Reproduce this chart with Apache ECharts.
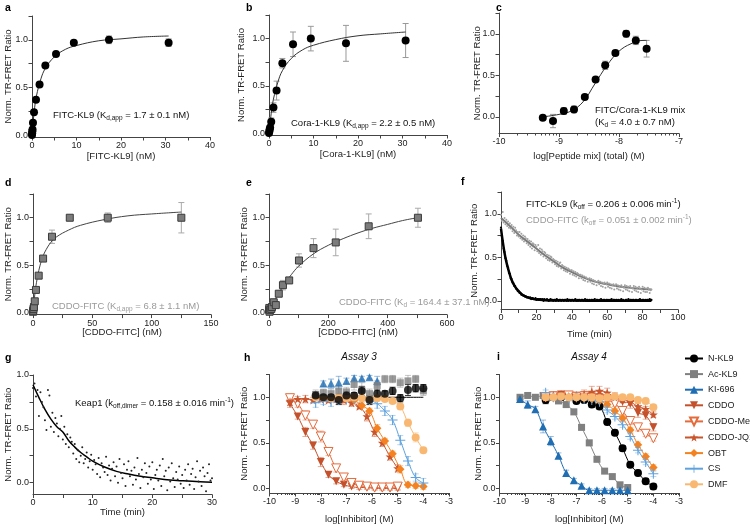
<!DOCTYPE html>
<html>
<head>
<meta charset="utf-8">
<script src="https://cdn.jsdelivr.net/npm/echarts@6/dist/echarts.min.js"></script>
<style>html,body{margin:0;background:#fff}#chart{width:750px;height:525px}</style>
</head>
<body>
<div id="chart"></div>
<script>
const FONT = 'Liberation Sans, Arial, Helvetica, sans-serif';
const YNAME = 'Norm. TR-FRET Ratio';

// a: FITC-KL9 saturation
const aConc = [0, 0.03, 0.06, 0.12, 0.22, 0.45, 0.9, 1.7, 3.0, 5.4, 9.4, 17.3, 30.7];
const aNorm = [0.0, 0.02, 0.04, 0.06, 0.13, 0.24, 0.37, 0.53, 0.73, 0.85, 0.97, 1.0, 0.97];
const aErr = [0, 0, 0.01, 0.01, 0.01, 0.01, 0.01, 0.02, 0.02, 0.02, 0.02, 0.04, 0.04];
const aFitX = [0, 0.5, 1, 2, 3, 5, 7.5, 10, 15, 20, 25, 30.7];
const aFitY = [0, 0.25, 0.41, 0.59, 0.70, 0.82, 0.90, 0.94, 0.99, 1.01, 1.03, 1.04];

// b: Cora-1-KL9 saturation
const bConc = [0, 0.08, 0.15, 0.25, 0.5, 1.0, 1.7, 3.0, 5.4, 9.4, 17.3, 30.7];
const bNorm = [0.0, 0.02, 0.04, 0.06, 0.12, 0.27, 0.45, 0.74, 0.94, 1.0, 0.95, 0.98];
const bErr = [0, 0.01, 0.01, 0.02, 0.04, 0.05, 0.1, 0.05, 0.13, 0.13, 0.19, 0.18];
const bFitX = [0, 0.5, 1, 2, 3, 5, 7.5, 10, 15, 20, 25, 30.7];
const bFitY = [0, 0.21, 0.36, 0.54, 0.66, 0.79, 0.88, 0.93, 0.99, 1.03, 1.05, 1.07];

// c: peptide mix titration (log M)
const cLog = [-9.27, -9.1, -8.92, -8.75, -8.57, -8.39, -8.23, -8.06, -7.88, -7.72, -7.54];
const cNorm = [-0.01, -0.05, 0.07, 0.09, 0.24, 0.45, 0.62, 0.77, 1.0, 0.92, 0.82];
const cErr = [0.02, 0.08, 0.04, 0.04, 0.03, 0.02, 0.05, 0.03, 0.04, 0.05, 0.1];
const cFitX = [-9.27, -9.0, -8.8, -8.6, -8.4, -8.2, -8.0, -7.8, -7.6, -7.54];
const cFitY = [0.0, 0.03, 0.07, 0.18, 0.40, 0.62, 0.79, 0.88, 0.92, 0.92];

// d: CDDO-FITC apparent
const dConc = [0, 0.2, 0.4, 0.8, 1.5, 2.5, 4.8, 8.5, 16, 31, 63, 125];
const dNorm = [0.01, 0.02, 0.04, 0.06, 0.12, 0.24, 0.39, 0.57, 0.80, 1.0, 1.0, 1.0];
const dErr = [0, 0, 0, 0.01, 0.01, 0.02, 0.02, 0.02, 0.07, 0.02, 0.05, 0.16];
const dFitX = [0, 2, 4, 6, 8, 10, 15, 20, 30, 40, 60, 80, 100, 125];
const dFitY = [0, 0.24, 0.39, 0.5, 0.58, 0.64, 0.74, 0.80, 0.87, 0.92, 0.98, 1.02, 1.04, 1.06];

// e: CDDO-FITC
const eConc = [0, 1, 2, 4, 8, 10, 16, 23, 33, 47, 68, 101, 150, 225, 336, 502];
const eNorm = [0.03, 0.05, 0.01, 0.03, 0.04, 0.06, 0.11, 0.08, 0.20, 0.29, 0.34, 0.55, 0.68, 0.74, 0.91, 1.0];
const eErr = [0.02, 0.03, 0.02, 0.02, 0.03, 0.04, 0.03, 0.03, 0.03, 0.05, 0.02, 0.07, 0.1, 0.14, 0.13, 0.1];
const eFitX = [0, 25, 50, 75, 100, 150, 200, 250, 300, 350, 400, 450, 500];
const eFitY = [0, 0.16, 0.29, 0.40, 0.49, 0.62, 0.71, 0.78, 0.84, 0.89, 0.93, 0.97, 1.0];

// f: dissociation, one reading every 0.5 min
const fStep = 0.5;
const fGray = [
  0.99, 0.92, 1.02, 0.90, 0.95, 0.88, 0.93, 0.86, 0.91, 0.84,
  0.89, 0.83, 0.87, 0.80, 0.85, 0.78, 0.84, 0.81, 0.75, 0.79,
  0.74, 0.79, 0.72, 0.77, 0.70, 0.75, 0.68, 0.74, 0.72, 0.66,
  0.71, 0.64, 0.69, 0.62, 0.68, 0.60, 0.66, 0.65, 0.58, 0.64,
  0.62, 0.57, 0.64, 0.55, 0.60, 0.53, 0.59, 0.57, 0.51, 0.56,
  0.55, 0.49, 0.53, 0.47, 0.52, 0.46, 0.51, 0.50, 0.44, 0.48,
  0.47, 0.42, 0.46, 0.40, 0.45, 0.39, 0.43, 0.44, 0.37, 0.41,
  0.40, 0.35, 0.39, 0.34, 0.38, 0.33, 0.37, 0.36, 0.31, 0.35,
  0.35, 0.30, 0.34, 0.29, 0.33, 0.28, 0.32, 0.31, 0.26, 0.30,
  0.30, 0.26, 0.29, 0.24, 0.28, 0.23, 0.27, 0.26, 0.22, 0.25,
  0.26, 0.22, 0.25, 0.20, 0.24, 0.19, 0.23, 0.22, 0.18, 0.22,
  0.23, 0.19, 0.22, 0.17, 0.21, 0.16, 0.20, 0.21, 0.15, 0.19,
  0.21, 0.16, 0.20, 0.15, 0.19, 0.14, 0.18, 0.19, 0.13, 0.17,
  0.19, 0.14, 0.18, 0.13, 0.17, 0.12, 0.18, 0.16, 0.11, 0.15,
  0.18, 0.13, 0.17, 0.12, 0.16, 0.11, 0.17, 0.15, 0.10, 0.14,
  0.17, 0.12, 0.16, 0.11, 0.15, 0.10, 0.16, 0.14, 0.09, 0.13,
  0.16, 0.11, 0.15, 0.10, 0.14, 0.10, 0.15, 0.13, 0.09, 0.12,
  0.13
];
const fBlack = [
  0.84, 0.74, 0.69, 0.60, 0.56, 0.49, 0.46, 0.40, 0.38, 0.32,
  0.31, 0.26, 0.25, 0.21, 0.20, 0.17, 0.17, 0.14, 0.13, 0.11,
  0.11, 0.09, 0.09, 0.07, 0.07, 0.06, 0.06, 0.05, 0.05, 0.04,
  0.04, 0.04, 0.03, 0.04, 0.02, 0.03, 0.03, 0.02, 0.02, 0.03,
  0.01, 0.02, 0.02, 0.01, 0.02, 0.02, 0.01, 0.02, 0.00, 0.02,
  0.01, 0.01, 0.02, 0.01, 0.00, 0.01, 0.02, 0.01, 0.01, 0.00,
  0.01, 0.01, 0.00, 0.02, 0.01, 0.00, 0.01, 0.01, 0.00, 0.01,
  0.01, 0.00, 0.01, 0.01, 0.00, 0.02, 0.00, 0.01, 0.01, 0.00,
  0.01, 0.01, 0.00, 0.01, 0.02, 0.00, 0.01, 0.00, 0.01, 0.01,
  0.00, 0.01, 0.01, 0.00, 0.01, 0.02, 0.00, 0.01, 0.01, 0.00,
  0.01, 0.00, 0.01, 0.01, 0.00, 0.01, 0.02, 0.00, 0.01, 0.01,
  0.00, 0.01, 0.00, 0.02, 0.01, 0.00, 0.01, 0.01, 0.00, 0.01,
  0.01, 0.00, 0.01, 0.00, 0.01, 0.02, 0.00, 0.01, 0.01, 0.00,
  0.01, 0.01, 0.00, 0.01, 0.00, 0.01, 0.02, 0.00, 0.01, 0.00,
  0.00, 0.01, 0.01, 0.00, 0.02, 0.00, 0.01, 0.01, 0.00, 0.01,
  0.01, 0.00, 0.01, 0.01, 0.00, 0.01, 0.00, 0.02, 0.01, 0.00,
  0.01, 0.01, 0.00, 0.01, 0.00, 0.01, 0.01, 0.00, 0.02, 0.01,
  0.01
];
const fGrayFitT = [0, 5, 10, 15, 20, 25, 30, 35, 40, 45, 50, 55, 60, 65, 70, 75, 80, 85];
const fGrayFitY = [0.95, 0.86, 0.76, 0.68, 0.60, 0.52, 0.45, 0.38, 0.33, 0.28, 0.24, 0.21, 0.19, 0.17, 0.155, 0.145, 0.135, 0.13];
const fBlackFitT = [0, 1, 2, 3, 4, 5, 6, 8, 10, 12, 15, 20, 25, 30, 40, 60, 85];
const fBlackFitY = [0.83, 0.68, 0.55, 0.45, 0.37, 0.30, 0.24, 0.16, 0.11, 0.07, 0.04, 0.015, 0.007, 0.004, 0.002, 0.001, 0.0];

// g: Keap1 dimer, one reading every 0.25 min
const gStep = 0.25;
const gKeap1 = [
  0.88, 0.92, 0.80, 0.86, 0.62, 0.84, 0.75, 0.70, 0.58, 0.49, 0.86, 0.81,
  0.52, 0.65, 0.47, 0.60, 0.55, 0.43, 0.50, 0.62, 0.40, 0.52, 0.36, 0.45,
  0.33, 0.42, 0.38, 0.27, 0.36, 0.22, 0.30, 0.19, 0.25, 0.33, 0.18, 0.22,
  0.28, 0.14, 0.20, 0.26, 0.12, 0.21, 0.17, 0.08, 0.23, 0.05, 0.18, 0.14,
  0.10, 0.24, 0.07, 0.16, 0.02, 0.13, 0.19, 0.06, 0.15, 0.00, 0.22, 0.09,
  0.04, 0.17, -0.03, 0.12, 0.20, 0.06, 0.11, -0.02, 0.14, 0.03, 0.23, 0.08,
  -0.05, 0.12, 0.05, 0.18, 0.09, -0.01, 0.15, 0.03, 0.19, -0.06, 0.07, 0.12,
  0.02, 0.16, -0.03, 0.22, 0.06, 0.11, -0.07, 0.14, 0.01, 0.18, 0.04, -0.04,
  0.10, 0.03, 0.15, -0.01, 0.07, -0.05, 0.12, 0.02, 0.17, -0.02, 0.08, 0.13,
  -0.06, 0.05, 0.20, 0.01, 0.11, -0.03, 0.14, 0.06, -0.08, 0.09, 0.17, 0.02,
  0.04
];
const gFitT = [0, 1, 2, 3, 4, 5, 6, 7, 8, 9, 10, 12, 14, 16, 18, 20, 22, 25, 28, 30];
const gFitY = [0.91, 0.79, 0.68, 0.59, 0.52, 0.47, 0.39, 0.33, 0.28, 0.24, 0.20, 0.145, 0.105, 0.08, 0.06, 0.045, 0.03, 0.018, 0.008, 0.004];

// h / i: inhibitor titrations (log M)
const compounds = ['N-KL9', 'Ac-KL9', 'KI-696', 'CDDO', 'CDDO-Me', 'CDDO-JQ1', 'OBT', 'CS', 'DMF'];
const logHigh = [-8.2, -7.9, -7.6, -7.3, -7.0, -6.7, -6.4, -6.1, -5.8, -5.5, -5.2, -4.9, -4.6, -4.3, -4.0];
const logLow = [-9.2, -8.9, -8.6, -8.3, -8.0, -7.7, -7.4, -7.1, -6.8, -6.5, -6.2, -5.9, -5.6, -5.3, -5.0];
const logKI3 = [-7.9, -7.6, -7.3, -7.0, -6.7, -6.4, -6.1, -5.8];

// assay 3
const h_nkl9 = [1.02, 1.0, 1.0, 0.97, 1.02, 1.02, 1.07, 0.97, 1.04, 1.04, 1.07, 0.99, 1.08, 1.10, 1.10];
const h_nkl9Err = [0.04, 0.03, 0.03, 0.05, 0.04, 0.03, 0.05, 0.05, 0.04, 0.03, 0.04, 0.04, 0.06, 0.04, 0.04];
const h_nkl9FitX = [-8.2, -4.0];
const h_nkl9FitY = [1.0, 1.0];
const h_ackl9 = [1.03, 1.05, 1.04, 1.07, 1.06, 1.14, 1.08, 1.04, 1.13, 1.2, 1.2, 1.16, 1.18, 1.2, 1.07];
const h_ackl9Err = [0.05, 0.04, 0.05, 0.06, 0.05, 0.06, 0.08, 0.05, 0.05, 0.04, 0.04, 0.05, 0.06, 0.04, 0.05];
const h_ki = [1.15, 1.15, 1.16, 1.18, 1.21, 1.21, 1.22, 1.18];
const h_kiErr = [0.03, 0.05, 0.07, 0.03, 0.03, 0.02, 0.02, 0.05];
const h_cddo = [0.93, 0.79, 0.62, 0.47, 0.29, 0.15, 0.08, 0.04, 0.02, 0.01, 0.01, 0.0, 0.0, 0.0, 0.0];
const h_cddoErr = [0.04, 0.03, 0.05, 0.04, 0.05, 0.03, 0.03, 0.02, 0.02, 0.02, 0.02, 0.02, 0.02, 0.02, 0.02];
const h_cddoMe = [0.99, 0.93, 0.80, 0.70, 0.57, 0.40, 0.22, 0.12, 0.06, 0.03, 0.02, 0.01, 0.01, 0.01, 0.02];
const h_cddoMeErr = [0.03, 0.04, 0.05, 0.04, 0.06, 0.04, 0.04, 0.03, 0.02, 0.02, 0.02, 0.02, 0.02, 0.02, 0.03];
const h_jq1 = [0.95, 0.98, 0.98, 0.97, 0.98, 0.97, 0.98, 0.97, 0.94, 0.90, 0.79, 0.62, 0.50, 0.35, 0.22];
const h_jq1Err = [0.04, 0.03, 0.04, 0.03, 0.03, 0.03, 0.03, 0.05, 0.04, 0.03, 0.05, 0.05, 0.04, 0.04, 0.04];
const h_obt = [1.0, 0.99, 1.0, 0.99, 1.0, 0.97, 0.91, 0.85, 0.66, 0.52, 0.38, 0.21, 0.04, 0.03, 0.02];
const h_obtErr = [0.02, 0.02, 0.02, 0.03, 0.02, 0.02, 0.03, 0.03, 0.04, 0.03, 0.03, 0.04, 0.03, 0.03, 0.03];
const h_cs = [0.94, 0.96, 0.95, 0.97, 0.98, 0.98, 0.99, 0.97, 0.93, 0.85, 0.75, 0.53, 0.30, 0.12, 0.06];
const h_csErr = [0.05, 0.04, 0.05, 0.04, 0.03, 0.03, 0.03, 0.04, 0.05, 0.05, 0.05, 0.05, 0.05, 0.04, 0.05];
const h_dmf = [1.0, 1.0, 0.99, 1.0, 0.99, 1.0, 0.99, 0.98, 0.99, 0.98, 0.96, 0.90, 0.72, 0.56, 0.42];
const h_dmfErr = [0.02, 0.02, 0.02, 0.02, 0.02, 0.02, 0.02, 0.02, 0.02, 0.02, 0.03, 0.03, 0.04, 0.05, 0.03];

// assay 4
const i_nkl9 = [0.97, 1.0, 1.0, 1.02, 0.96, 0.97, 0.92, 0.90, 0.73, 0.61, 0.44, 0.26, 0.17, 0.08, 0.02];
const i_nkl9Err = [0.04, 0.03, 0.03, 0.03, 0.03, 0.03, 0.03, 0.03, 0.03, 0.03, 0.03, 0.03, 0.03, 0.03, 0.03];
const i_ackl9 = [1.0, 1.02, 1.0, 1.02, 1.0, 0.96, 0.92, 0.84, 0.67, 0.50, 0.32, 0.19, 0.13, 0.04, 0.01];
const i_ackl9Err = [0.02, 0.02, 0.02, 0.02, 0.03, 0.02, 0.03, 0.03, 0.03, 0.03, 0.03, 0.02, 0.02, 0.02, 0.02];
const i_ki = [0.98, 0.92, 0.87, 0.68, 0.52, 0.36, 0.17, 0.09, 0.03, -0.02, -0.02, -0.02, -0.02, -0.02, -0.02];
const i_kiErr = [0.02, 0.04, 0.03, 0.07, 0.05, 0.03, 0.03, 0.02, 0.02, 0.02, 0.02, 0.02, 0.02, 0.02, 0.02];
const i_cddo = [1.0, 1.02, 1.03, 1.02, 1.01, 1.02, 1.01, 1.0, 0.99, 0.97, 0.95, 0.93, 0.83, 0.80, 0.67];
const i_cddoErr = [0.02, 0.03, 0.03, 0.03, 0.03, 0.04, 0.04, 0.03, 0.04, 0.04, 0.05, 0.05, 0.05, 0.04, 0.04];
const i_cddoMe = [1.0, 1.01, 1.0, 1.02, 1.0, 1.01, 0.99, 0.98, 0.97, 0.93, 0.85, 0.74, 0.67, 0.60, 0.55];
const i_cddoMeErr = [0.02, 0.03, 0.03, 0.03, 0.03, 0.04, 0.03, 0.04, 0.04, 0.03, 0.04, 0.04, 0.04, 0.03, 0.03];
const i_jq1 = [1.0, 1.02, 1.03, 1.01, 1.02, 1.03, 1.06, 1.07, 1.05, 1.0, 0.98, 0.95, 0.90, 0.87, 0.81];
const i_jq1Err = [0.02, 0.03, 0.03, 0.03, 0.04, 0.05, 0.06, 0.05, 0.05, 0.05, 0.04, 0.04, 0.03, 0.03, 0.03];
const i_obt = [1.0, 1.0, 1.01, 1.0, 1.0, 0.99, 0.98, 0.96, 0.92, 0.85, 0.77, 0.64, 0.48, 0.35, 0.23];
const i_obtErr = [0.02, 0.02, 0.02, 0.02, 0.02, 0.03, 0.03, 0.03, 0.03, 0.03, 0.03, 0.03, 0.03, 0.03, 0.03];
const i_cs = [1.05, 1.0, 1.0, 0.99, 1.0, 0.98, 0.97, 0.95, 0.86, 0.79, 0.70, 0.57, 0.42, 0.29, 0.16];
const i_csErr = [0.03, 0.03, 0.03, 0.03, 0.03, 0.03, 0.03, 0.03, 0.03, 0.03, 0.03, 0.03, 0.03, 0.03, 0.03];
const i_dmf = [1.0, 1.0, 1.01, 1.0, 1.0, 1.0, 1.0, 0.99, 1.0, 1.01, 1.0, 1.0, 0.97, 0.96, 0.89];
const i_dmfErr = [0.02, 0.02, 0.02, 0.02, 0.02, 0.02, 0.02, 0.02, 0.02, 0.03, 0.03, 0.03, 0.03, 0.03, 0.03];

// tick positions and labels
const normTicks = [0, 0.25, 0.5, 0.75, 1, 1.25];
const normTicksG = [0, 0.25, 0.5, 0.75, 1];
const normLabels = [0, 0.5, 1];
const abTicks = [0, 5, 10, 15, 20, 25, 30, 35, 40];
const abLabels = [0, 10, 20, 30, 40];
const cLabels = [-10, -9, -8, -7];
const dTicks = [0, 25, 50, 75, 100, 125, 150];
const dLabels = [0, 50, 100, 150];
const eTicks = [0, 100, 200, 300, 400, 500, 600];
const eLabels = [0, 200, 400, 600];
const fTicks = [0, 10, 20, 30, 40, 50, 60, 70, 80, 90, 100];
const fLabels = [0, 20, 40, 60, 80, 100];
const gTicks = [0, 5, 10, 15, 20, 25, 30];
const gLabels = [0, 10, 20, 30];
const hiLabels = [-10, -9, -8, -7, -6, -5, -4, -3];

const STAR = 'path://M0,-10L2.35,-3.24L9.51,-3.09L3.8,1.24L5.88,8.09L0,4L-5.88,8.09L-3.8,1.24L-9.51,-3.09L-2.35,-3.24Z';
const PLUS = 'path://M-1,-10H1V-1H10V1H1V10H-1V1H-10V-1H-1Z';
const look = {
  'N-KL9': { symbol: 'circle', size: 8, color: '#000000' },
  'Ac-KL9': { symbol: 'rect', size: 7, color: '#808080' },
  'KI-696': { symbol: 'triangle', size: 8, color: '#1f6db3' },
  'CDDO': { symbol: 'triangle', rotate: 180, size: 8, color: '#c4512b' },
  'CDDO-Me': { symbol: 'triangle', rotate: 180, size: 9, color: '#e46b3c', hollow: true },
  'CDDO-JQ1': { symbol: STAR, size: 9, color: '#c9552c' },
  'OBT': { symbol: 'diamond', size: 8.5, color: '#f58220' },
  'CS': { symbol: PLUS, size: 10, color: '#5fa2dd' },
  'DMF': { symbol: 'circle', size: 8, color: '#f9b872' }
};

const pairs = (xs, ys) => xs.map((x, k) => [x, ys[k]]);
const timed = (ys, step) => ys.map((y, k) => [k * step, y]);
function logMinors(from, to) {
  const out = [];
  for (let d = from; d < to; d++) for (let k = 2; k <= 9; k++) out.push(d + Math.log10(k));
  return out;
}

const grids = [], xAxes = [], yAxes = [], series = [];

function panel(box, x, y) {
  grids.push(box);
  const gi = grids.length - 1;
  const xi = xAxes.length;
  xAxes.push({
    gridIndex: gi, type: 'value', min: x.min, max: x.max, position: 'bottom',
    name: x.name, nameLocation: 'middle', nameGap: x.gap, nameMoveOverlap: false,
    nameTextStyle: { fontSize: 9.5, color: '#222', fontFamily: FONT },
    axisLine: { onZero: false, lineStyle: { color: '#444' } },
    axisTick: { length: 3.5, customValues: x.ticks, lineStyle: { color: '#444' } },
    axisLabel: { customValues: x.labels, fontSize: 9, color: '#222', margin: 4, fontFamily: FONT },
    splitLine: { show: false }
  });
  if (x.minors) {
    xAxes.push({
      gridIndex: gi, type: 'value', min: x.min, max: x.max, position: 'bottom',
      axisLine: { show: false, onZero: false }, axisLabel: { show: false }, splitLine: { show: false },
      axisTick: { length: 2, customValues: x.minors, lineStyle: { color: '#444' } }
    });
  }
  const yi = yAxes.length;
  yAxes.push({
    gridIndex: gi, type: 'value', min: y.min, max: y.max,
    name: YNAME, nameLocation: 'middle', nameGap: y.gap, nameMoveOverlap: false,
    nameTextStyle: { fontSize: 9.5, color: '#222', fontFamily: FONT },
    axisLine: { show: true, onZero: false, lineStyle: { color: '#444' } },
    axisTick: { show: true, length: 3.5, customValues: y.ticks || normTicks, lineStyle: { color: '#444' } },
    axisLabel: { customValues: normLabels, formatter: v => v.toFixed(1), fontSize: 9, color: '#222', margin: 4, fontFamily: FONT },
    splitLine: { show: false }
  });
  return { xi, yi };
}

function errorBars(ax, xs, ys, errs, color, opacity) {
  return {
    type: 'custom', xAxisIndex: ax.xi, yAxisIndex: ax.yi, silent: true, z: 1,
    data: xs.map((x, k) => [x, ys[k] - errs[k], ys[k] + errs[k]]),
    encode: { x: 0, y: [1, 2] },
    renderItem: function (params, api) {
      const lo = api.coord([api.value(0), api.value(1)]);
      const hi = api.coord([api.value(0), api.value(2)]);
      const st = { stroke: color, lineWidth: 1, opacity: opacity };
      return {
        type: 'group', children: [
          { type: 'line', shape: { x1: lo[0], y1: lo[1], x2: hi[0], y2: hi[1] }, style: st },
          { type: 'line', shape: { x1: lo[0] - 3, y1: lo[1], x2: lo[0] + 3, y2: lo[1] }, style: st },
          { type: 'line', shape: { x1: hi[0] - 3, y1: hi[1], x2: hi[0] + 3, y2: hi[1] }, style: st }
        ]
      };
    }
  };
}

function fitLine(ax, xs, ys, color, width) {
  return {
    type: 'line', xAxisIndex: ax.xi, yAxisIndex: ax.yi, data: pairs(xs, ys), smooth: 0.4,
    showSymbol: false, silent: true, z: 2, lineStyle: { color: color, width: width || 1 }
  };
}

function dots(ax, data, symbol, size, fill, border) {
  return {
    type: 'scatter', xAxisIndex: ax.xi, yAxisIndex: ax.yi, data: data, symbol: symbol, symbolSize: size,
    silent: true, z: 3,
    itemStyle: { color: fill, borderColor: border || fill, borderWidth: border ? 1 : 0, opacity: 1 }
  };
}

// compound series for the inhibitor panels
function compound(ax, name, xs, ys, errs, withLine) {
  const s = look[name];
  const errColor = name === 'N-KL9' ? '#000' : s.color;
  series.push(errorBars(ax, xs, ys, errs, errColor, name === 'N-KL9' ? 0.8 : 0.45));
  series.push({
    name: name, type: withLine ? 'line' : 'scatter', xAxisIndex: ax.xi, yAxisIndex: ax.yi,
    data: pairs(xs, ys), smooth: 0.4, symbol: s.symbol, symbolSize: s.size, symbolRotate: s.rotate || 0,
    showSymbol: true, z: 3,
    lineStyle: { color: s.color, width: 1 },
    itemStyle: { color: s.hollow ? '#fff' : s.color, borderColor: s.color, borderWidth: s.hollow ? 1 : 0 }
  });
}

// a
const pa = panel({ left: 32, top: 16, width: 178, height: 121 },
  { min: 0, max: 40, ticks: abTicks, labels: abLabels, name: '[FITC-KL9] (nM)', gap: 14 },
  { min: -0.02, max: 1.25, gap: 19 });
series.push(errorBars(pa, aConc, aNorm, aErr, '#999', 1));
series.push(fitLine(pa, aFitX, aFitY, '#333'));
series.push(dots(pa, pairs(aConc, aNorm), 'circle', 8, '#000'));

// b
const pb = panel({ left: 269, top: 15, width: 178, height: 120 },
  { min: 0, max: 40, ticks: abTicks, labels: abLabels, name: '[Cora-1-KL9] (nM)', gap: 14 },
  { min: -0.02, max: 1.25, gap: 23 });
series.push(errorBars(pb, bConc, bNorm, bErr, '#999', 1));
series.push(fitLine(pb, bFitX, bFitY, '#333'));
series.push(dots(pb, pairs(bConc, bNorm), 'circle', 8, '#000'));

// c
const pc = panel({ left: 499, top: 13, width: 180, height: 120.5 },
  { min: -10, max: -7, ticks: cLabels, labels: cLabels, minors: logMinors(-10, -7), name: 'log[Peptide mix] (total) (M)', gap: 18 },
  { min: -0.2, max: 1.25, gap: 16.5 });
series.push(errorBars(pc, cLog, cNorm, cErr, '#999', 1));
series.push(fitLine(pc, cFitX, cFitY, '#333'));
series.push(dots(pc, pairs(cLog, cNorm), 'circle', 8, '#000'));

// d
const pd = panel({ left: 33, top: 194, width: 178, height: 120.6 },
  { min: 0, max: 150, ticks: dTicks, labels: dLabels, name: '[CDDO-FITC] (nM)', gap: 13 },
  { min: -0.02, max: 1.25, gap: 20 });
series.push(errorBars(pd, dConc, dNorm, dErr, '#aaa', 1));
series.push(fitLine(pd, dFitX, dFitY, '#444'));
series.push(dots(pd, pairs(dConc, dNorm), 'rect', 7, '#7c7c7c', '#3a3a3a'));

// e
const pe = panel({ left: 269, top: 194, width: 178, height: 120.6 },
  { min: 0, max: 600, ticks: eTicks, labels: eLabels, name: '[CDDO-FITC] (nM)', gap: 13 },
  { min: -0.02, max: 1.25, gap: 20 });
series.push(errorBars(pe, eConc, eNorm, eErr, '#aaa', 1));
series.push(fitLine(pe, eFitX, eFitY, '#444'));
series.push(dots(pe, pairs(eConc, eNorm), 'rect', 7, '#7c7c7c', '#3a3a3a'));

// f
const pf = panel({ left: 501, top: 192, width: 177, height: 117.5 },
  { min: 0, max: 100, ticks: fTicks, labels: fLabels, name: 'Time (min)', gap: 20 },
  { min: -0.1, max: 1.25, gap: 22 });
series.push(dots(pf, timed(fGray, fStep), 'circle', 2, '#a0a0a0'));
series.push(fitLine(pf, fGrayFitT, fGrayFitY, '#7a7a7a', 2));
series.push(dots(pf, timed(fBlack, fStep), 'circle', 2.2, '#000'));
series.push(fitLine(pf, fBlackFitT, fBlackFitY, '#000', 2.5));

// g
const pg = panel({ left: 33, top: 375, width: 179, height: 119.5 },
  { min: 0, max: 30, ticks: gTicks, labels: gLabels, name: 'Time (min)', gap: 13 },
  { min: -0.11, max: 1.0, ticks: normTicksG, gap: 20 });
series.push(dots(pg, timed(gKeap1, gStep), 'circle', 2, '#222'));
series.push(fitLine(pg, gFitT, gFitY, '#000', 1.5));

// h and i
const ph = panel({ left: 269.5, top: 374.5, width: 179.5, height: 118.5 },
  { min: -10, max: -3, ticks: hiLabels, labels: hiLabels, minors: logMinors(-10, -3), name: 'log[Inhibitor] (M)', gap: 21 },
  { min: -0.05, max: 1.25, gap: 20 });
const pi = panel({ left: 499.5, top: 374.5, width: 179.5, height: 118.5 },
  { min: -10, max: -3, ticks: hiLabels, labels: hiLabels, minors: logMinors(-10, -3), name: 'log[Inhibitor] (M)', gap: 21 },
  { min: -0.05, max: 1.25, gap: 16.5 });

// assay 4 first so the legend takes its line + marker icons
compound(pi, 'N-KL9', logHigh, i_nkl9, i_nkl9Err, true);
compound(pi, 'Ac-KL9', logLow, i_ackl9, i_ackl9Err, true);
compound(pi, 'KI-696', logLow, i_ki, i_kiErr, true);
compound(pi, 'CDDO', logHigh, i_cddo, i_cddoErr, true);
compound(pi, 'CDDO-Me', logHigh, i_cddoMe, i_cddoMeErr, true);
compound(pi, 'CDDO-JQ1', logHigh, i_jq1, i_jq1Err, true);
compound(pi, 'OBT', logHigh, i_obt, i_obtErr, true);
compound(pi, 'CS', logHigh, i_cs, i_csErr, true);
compound(pi, 'DMF', logHigh, i_dmf, i_dmfErr, true);

series.push(fitLine(ph, h_nkl9FitX, h_nkl9FitY, '#000'));
compound(ph, 'CDDO', logLow, h_cddo, h_cddoErr, true);
compound(ph, 'CDDO-Me', logLow, h_cddoMe, h_cddoMeErr, true);
compound(ph, 'CDDO-JQ1', logLow, h_jq1, h_jq1Err, true);
compound(ph, 'OBT', logHigh, h_obt, h_obtErr, true);
compound(ph, 'CS', logHigh, h_cs, h_csErr, true);
compound(ph, 'DMF', logHigh, h_dmf, h_dmfErr, true);
compound(ph, 'KI-696', logKI3, h_ki, h_kiErr, false);
compound(ph, 'Ac-KL9', logHigh, h_ackl9, h_ackl9Err, false);
compound(ph, 'N-KL9', logHigh, h_nkl9, h_nkl9Err, false);

// text bits
const sub = c => ({ fontSize: 6.5, padding: [6, 0, 0, 0], fill: c, fontFamily: FONT });
const sup = c => ({ fontSize: 6.5, padding: [0, 0, 6, 0], fill: c, fontFamily: FONT });
function note(x, y, text, color, extra) {
  return {
    type: 'text', x: x, y: y, silent: true, z: 10,
    style: Object.assign({
      text: text, fill: color, fontSize: 9.5, fontFamily: FONT, verticalAlign: 'middle',
      rich: { s: sub(color), p: sup(color) }
    }, extra || {})
  };
}
const letters = [['a', 5, 8], ['b', 246, 8], ['c', 496, 8], ['d', 5, 183], ['e', 246, 183], ['f', 461, 182],
  ['g', 5, 358], ['h', 244, 358], ['i', 497, 357]];
const graphic = letters.map(l => note(l[1], l[2], l[0], '#000', { fontWeight: 'bold', fontSize: 10.5 }));
graphic.push(
  note(53, 115, 'FITC-KL9 (K{s|d,app} = 1.7 ± 0.1 nM)', '#111'),
  note(291, 123, 'Cora-1-KL9 (K{s|d,app} = 2.2 ± 0.5 nM)', '#111'),
  note(595, 110, 'FITC/Cora-1-KL9 mix', '#111'),
  note(595, 122.5, '(K{s|d} = 4.0 ± 0.7 nM)', '#111'),
  note(52, 306, 'CDDO-FITC (K{s|d,app} = 6.8 ± 1.1 nM)', '#9a9a9a'),
  note(339, 302, 'CDDO-FITC (K{s|d} = 164.4 ± 37.1 nM)', '#9a9a9a'),
  note(526, 204, 'FITC-KL9 (k{s|off} = 0.206 ± 0.006 min{p|-1})', '#111'),
  note(526, 220, 'CDDO-FITC (k{s|off} = 0.051 ± 0.002 min{p|-1})', '#9a9a9a'),
  note(75, 403, 'Keap1 (k{s|off,dimer} = 0.158 ± 0.016 min{p|-1})', '#111'),
  note(359, 357, 'Assay 3', '#111', { align: 'center', fontStyle: 'italic', fontSize: 10 }),
  note(589, 357, 'Assay 4', '#111', { align: 'center', fontStyle: 'italic', fontSize: 10 })
);

const chart = echarts.init(document.getElementById('chart'), null, { renderer: 'canvas' });
chart.setOption({
  animation: false,
  backgroundColor: '#fff',
  textStyle: { fontFamily: FONT },
  grid: grids,
  xAxis: xAxes,
  yAxis: yAxes,
  legend: {
    data: compounds, orient: 'vertical', left: 684, top: 354, padding: 0,
    itemWidth: 18, itemHeight: 10, itemGap: 6.6,
    selectedMode: false, textStyle: { fontSize: 9, color: '#222', fontFamily: FONT }
  },
  graphic: graphic,
  series: series
});
</script>
</body>
</html>
